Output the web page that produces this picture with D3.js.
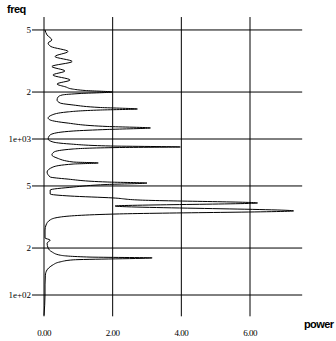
<!DOCTYPE html>
<html>
<head>
<meta charset="utf-8">
<script src="https://cdn.jsdelivr.net/npm/d3@7"></script>
<style>
  body { margin: 0; background: #fff; }
  svg { display: block; }
</style>
</head>
<body>
<svg id="chart" width="336" height="341"></svg>
<script>
// spectrum: frequency (log) vs power
var freq = [74, 86, 100, 116, 134, 145, 153, 156, 163, 168, 173, 175, 180, 189, 200,
  215, 225, 232, 261, 281, 303, 316, 331, 346, 372, 389, 406, 419, 431, 444,
  471, 492, 511, 522, 530, 554, 571, 614, 661, 691, 702, 712, 755, 790, 825,
  863, 882, 889, 902, 929, 957, 1000, 1045, 1076, 1125, 1151, 1177, 1203, 1267,
  1324, 1363, 1425, 1490, 1534, 1557, 1592, 1652, 1701, 1778, 1859, 1915, 1957,
  2001, 2046, 2092, 2154, 2252, 2389, 2572, 2728, 2915, 3139, 3380, 3638, 3916,
  4125, 4311, 4642, 4996];
var power = [0.0, 0.02, 0.03, 0.03, 0.04, 0.09, 0.2, 0.26, 0.47, 0.85, 3.15, 1.34, 0.47, 0.23, 0.12,
  0.09, 0.18, 0.03, 0.03, 0.06, 0.18, 0.47, 2.2, 7.27, 2.07, 6.22, 2.8, 2.01, 0.76, 0.18,
  0.18, 0.85, 1.84, 3.0, 1.84, 0.67, 0.18, 0.09, 0.26, 0.85, 1.58, 0.85, 0.38, 0.23, 0.29,
  0.85, 2.2, 3.97, 1.93, 0.76, 0.26, 0.12, 0.15, 0.23, 0.85, 1.84, 3.1, 1.84, 0.67,
  0.18, 0.12, 0.23, 0.67, 1.64, 2.72, 1.64, 0.85, 0.47, 0.38, 0.41, 0.53, 1.05,
  1.99, 1.2, 0.82, 0.64, 0.38, 0.76, 0.26, 0.61, 0.23, 0.82, 0.32, 0.7, 0.2,
  0.12, 0.23, 0.09, 0.03];

var xTicks = [0, 2, 4, 6];
var yTicks = [100, 200, 500, 1000, 2000, 5000];
var yTickLabels = ["1e+02", "2", "5", "1e+03", "2", "5"];

var svg = d3.select("#chart");

var x = d3.scaleLinear().domain([0, 6]).range([44, 250]);
var y = d3.scaleLog().domain([100, 1000]).range([295, 139]);

// grid: horizontal lines at the freq ticks
svg.selectAll(".hgrid")
  .data(yTicks)
  .enter()
  .append("line")
  .attr("class", "hgrid")
  .attr("x1", x(-0.35))
  .attr("x2", x(7.52))
  .attr("y1", function (d) { return y(d); })
  .attr("y2", function (d) { return y(d); })
  .style("stroke", "#000")
  .style("stroke-width", 1);

// vertical lines at the power ticks
svg.selectAll(".vgrid")
  .data(xTicks)
  .enter()
  .append("line")
  .attr("class", "vgrid")
  .attr("x1", function (d) { return x(d); })
  .attr("x2", function (d) { return x(d); })
  .attr("y1", y(6050))
  .attr("y2", y(73))
  .style("stroke", "#000")
  .style("stroke-width", 1);

svg.selectAll(".ylab")
  .data(yTicks)
  .enter()
  .append("text")
  .attr("class", "ylab")
  .attr("x", 31)
  .attr("y", function (d) { return y(d); })
  .attr("dy", "0.32em")
  .attr("text-anchor", "end")
  .style("font-family", "Liberation Serif, serif")
  .style("font-size", "9px")
  .text(function (d, i) { return yTickLabels[i]; });

svg.selectAll(".xlab")
  .data(xTicks)
  .enter()
  .append("text")
  .attr("class", "xlab")
  .attr("x", function (d) { return x(d); })
  .attr("y", 336)
  .attr("text-anchor", "middle")
  .style("font-family", "Liberation Serif, serif")
  .style("font-size", "9px")
  .style("letter-spacing", "-0.5px")
  .text(function (d) { return d3.format(".2f")(d); });

svg.append("text")
  .attr("x", 7)
  .attr("y", 13)
  .style("font-family", "Liberation Sans, sans-serif")
  .style("font-weight", "bold")
  .style("font-size", "11px")
  .style("letter-spacing", "-0.5px")
  .text("freq");

svg.append("text")
  .attr("x", 304)
  .attr("y", 328)
  .style("font-family", "Liberation Sans, sans-serif")
  .style("font-weight", "bold")
  .style("font-size", "11px")
  .style("letter-spacing", "-0.6px")
  .text("power");

var pts = freq.map(function (f, i) { return { f: f, p: power[i] }; }).reverse();

var line = d3.line()
  .x(function (d) { return x(d.p); })
  .y(function (d) { return y(d.f); })
  .curve(d3.curveMonotoneY);

svg.append("path")
  .datum(pts)
  .attr("d", line)
  .style("fill", "none")
  .style("stroke", "#000")
  .style("stroke-width", 1);
</script>
</body>
</html>
